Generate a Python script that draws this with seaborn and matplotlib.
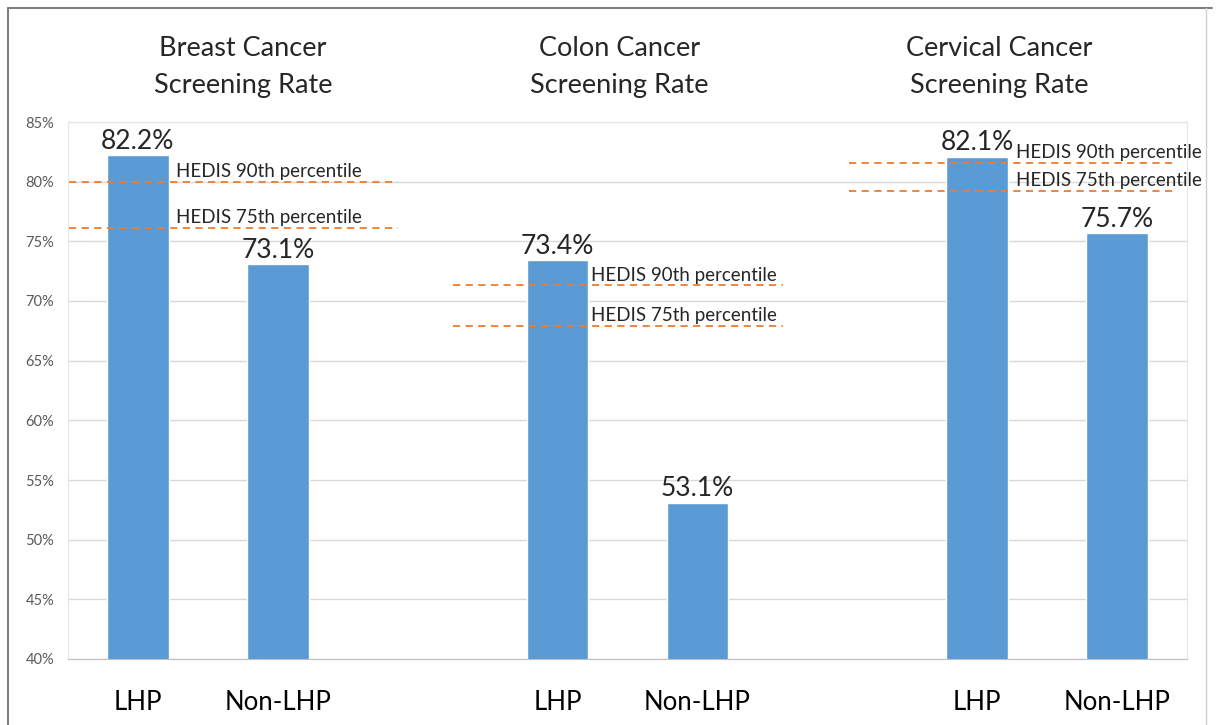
import matplotlib.pyplot as plt
from matplotlib.lines import Line2D
import pandas as pd
import seaborn as sns

# data
screenings = ['Breast Cancer\nScreening Rate', 'Colon Cancer\nScreening Rate', 'Cervical Cancer\nScreening Rate']
groups = ['LHP', 'Non-LHP']
lhp_rates = [82.2, 73.4, 82.1]
non_lhp_rates = [73.1, 53.1, 75.7]
hedis_90th = [80.0, 71.3, 81.6]
hedis_75th = [76.1, 67.9, 79.2]

# layout: each screening gets 3 slots (LHP, Non-LHP, blank)
slots, rates, labels = [], [], []
for i in range(3):
    slots += [3 * i, 3 * i + 1]
    rates += [lhp_rates[i], non_lhp_rates[i]]
    labels += groups
df = pd.DataFrame({'slot': slots, 'rate': rates})

sns.set_style('white')
plt.rcParams['font.family'] = ['Lato', 'DejaVu Sans']

fig = plt.figure(figsize=(12.32, 7.25), dpi=100)
ax = fig.add_axes([68 / 1232, 66 / 725, 1119 / 1232, 537 / 725])

bar_color = '#5b9bd5'
sns.barplot(data=df, x='slot', y='rate', order=list(range(8)), color=bar_color,
            saturation=1, width=0.44, ax=ax, zorder=2)

ax.set_ylim(40, 85)
ax.set_xlim(-0.5, 7.5)
ax.set_yticks(range(40, 86, 5))
ax.set_yticklabels([f'{v}%' for v in range(40, 86, 5)], fontsize=10.5, color='#595959')
ax.set_xticks(slots)
ax.set_xticklabels(labels, fontsize=18.5, color='black')
ax.tick_params(axis='x', length=0, pad=22)
ax.tick_params(axis='y', length=0, pad=10)
ax.set_xlabel('')
ax.set_ylabel('')
ax.grid(axis='y', color='#d9d9d9', linewidth=1, zorder=0)
ax.set_axisbelow(True)
for side in ['top', 'left', 'right']:
    ax.spines[side].set_color('#e6e6e6')
ax.spines['bottom'].set_color('#bfbfbf')

# value labels
for container in ax.containers:
    ax.bar_label(container, labels=[f'{v:.1f}%' for v in container.datavalues],
                 fontsize=19, padding=1)

# HEDIS reference lines (x-extent offsets relative to each group's LHP slot)
line_spans = [(-0.49, 1.86), (-0.75, 1.61), (-0.92, 1.43)]
text_offsets = [0.27, 0.24, 0.28]
orange = '#ed7d31'
for i in range(3):
    x0 = 3 * i + line_spans[i][0]
    x1 = 3 * i + line_spans[i][1]
    for val, name in [(hedis_90th[i], 'HEDIS 90th percentile'),
                      (hedis_75th[i], 'HEDIS 75th percentile')]:
        ax.plot([x0, x1], [val, val], color=orange, linestyle=(0, (4, 3)),
                linewidth=1.3, zorder=3)
        ax.text(3 * i + text_offsets[i], val + 0.15, name, fontsize=13.5,
                ha='left', va='bottom', zorder=4)

# column titles (centre offsets relative to each group's LHP slot)
title_offsets = [0.75, 0.44, 0.16]
for i, title in enumerate(screenings):
    ax.text(3 * i + title_offsets[i], 1.0 + 55 / 537, title,
            transform=ax.get_xaxis_transform(),
            ha='center', va='center', fontsize=19.5, linespacing=1.6)

# outer frame like the pasted screenshot
fig.add_artist(Line2D([8 / 1232, 1212 / 1232], [1 - 8 / 725, 1 - 8 / 725],
                      color='#7f7f7f', linewidth=1.5))
fig.add_artist(Line2D([8 / 1232, 8 / 1232], [0, 1 - 8 / 725],
                      color='#7f7f7f', linewidth=1.5))
fig.add_artist(Line2D([1206 / 1232, 1206 / 1232], [0, 1 - 8 / 725],
                      color='#d0d0d0', linewidth=1))

fig.savefig('out.png', dpi=100)
